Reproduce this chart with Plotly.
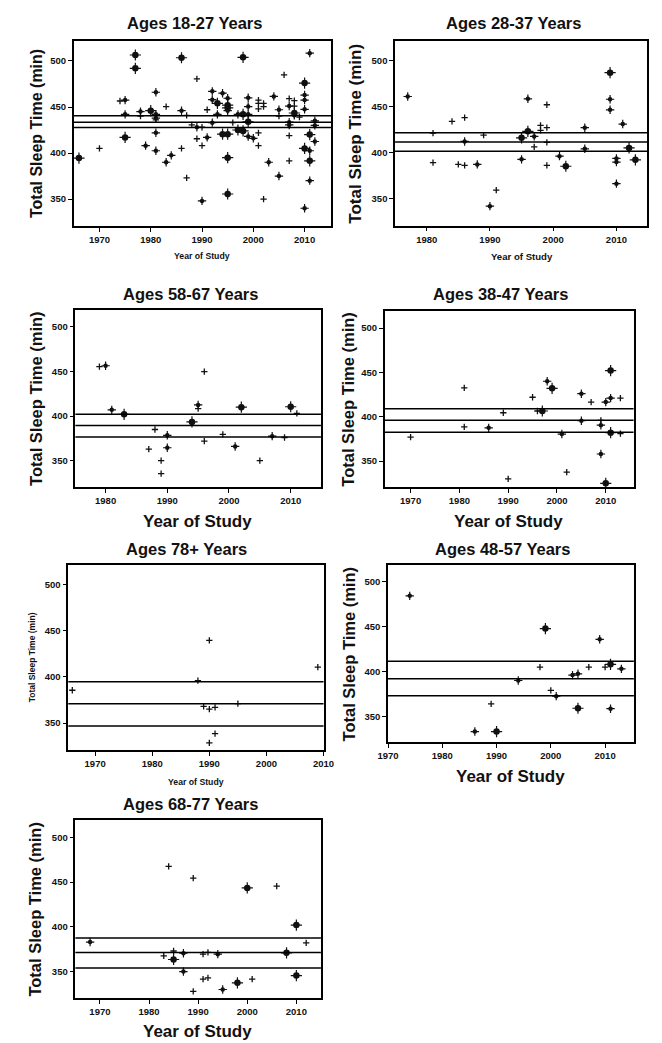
import plotly.graph_objects as go

W, H = 662, 1043

# ---------------- data (year of study, total sleep time in min, study weight class) ----------------
A18_YEAR = [1966, 1970, 1974, 1975, 1975, 1975, 1977, 1977, 1978, 1978, 1979, 1980, 1981, 1981, 1981, 1981,
            1981, 1981, 1983, 1983, 1984, 1986, 1986, 1986, 1987, 1987, 1988, 1989, 1989, 1989, 1990, 1990,
            1990, 1991, 1991, 1992, 1992, 1992, 1993, 1993, 1994, 1994, 1995, 1995, 1995, 1995, 1995, 1995,
            1995, 1996, 1997, 1997, 1998, 1998, 1998, 1999, 1999, 1999, 1999, 1999, 2000, 2001, 2001, 2001,
            2001, 2001, 2002, 2002, 2002, 2003, 2004, 2005, 2005, 2005, 2006, 2007, 2007, 2007, 2007, 2007,
            2007, 2008, 2008, 2008, 2008, 2009, 2010, 2010, 2010, 2010, 2010, 2010, 2011, 2011, 2011, 2011,
            2011, 2012, 2012, 2012]
A18_TST = [394.5, 405, 456.5, 457.5, 442, 417, 506.5, 492, 445, 440, 408, 446, 466, 442, 438, 436,
           422, 402.5, 450.5, 390, 397.5, 503.5, 446, 405, 441, 373, 430.5, 480.5, 428, 415.5, 428, 408,
           348, 447, 417, 467, 458, 433, 454, 442, 465, 420.5, 459.5, 452, 449, 446, 420.5, 395,
           355.5, 433, 442, 425, 504, 442, 424, 460, 450.5, 442, 434, 418, 416, 457.5, 454, 448,
           422, 408, 454, 450.5, 350, 390, 461.5, 447, 440, 375, 485, 459, 451, 433.5, 430.5, 419,
           391.5, 457, 451, 443.5, 441, 439, 476, 463, 457.5, 447.5, 405, 340, 508.5, 420, 402.5, 391.5,
           370, 435, 430, 412.5]
A18_WT = ["b", "s", "s", "m", "m", "b", "b", "b", "m", "s", "m", "b", "m", "m", "m", "s",
          "m", "m", "s", "m", "m", "b", "m", "s", "s", "s", "s", "s", "m", "s", "s", "s",
          "m", "s", "m", "m", "m", "m", "b", "m", "m", "b", "m", "b", "b", "m", "b", "b",
          "b", "s", "m", "b", "b", "b", "b", "m", "m", "m", "b", "m", "m", "s", "s", "s",
          "s", "s", "s", "s", "s", "m", "m", "m", "s", "m", "s", "s", "m", "m", "m", "s",
          "s", "s", "s", "b", "m", "s", "b", "m", "m", "m", "b", "m", "m", "b", "m", "b",
          "m", "m", "m", "m"]
A18_CI = [427.8, 433.5, 440.5]

A28_YEAR = [1977, 1981, 1981, 1984, 1985, 1986, 1986, 1986, 1988, 1989, 1990, 1991, 1995, 1995, 1996, 1996,
            1997, 1997, 1998, 1998, 1999, 1999, 1999, 1999, 2001, 2002, 2005, 2005, 2009, 2009, 2009, 2010,
            2010, 2010, 2011, 2012, 2013]
A28_TST = [461, 421, 389, 434, 387, 438, 412, 386, 387, 419, 341.5, 359, 416, 392.5, 458.5, 423,
           417.5, 406, 429.5, 424, 452, 427, 411, 386, 396, 385, 427, 404, 487, 458, 446.5, 393.5,
           389.5, 366, 431, 405, 392]
A28_WT = ["m", "s", "s", "s", "s", "s", "m", "s", "m", "s", "m", "s", "b", "m", "m", "b",
          "m", "s", "s", "s", "s", "s", "s", "s", "m", "b", "m", "m", "b", "m", "m", "m",
          "m", "m", "m", "b", "b"]
A28_CI = [401.3, 411.4, 421.6]

A58_YEAR = [1979, 1980, 1981, 1983, 1987, 1988, 1989, 1989, 1990, 1990, 1994, 1995, 1995, 1996, 1996, 1999,
            2001, 2002, 2005, 2007, 2009, 2010, 2011]
A58_TST = [455.5, 456.5, 407, 402, 363, 385, 350, 335.5, 378.5, 364.5, 393.5, 412.5, 408.5, 450, 372, 379.5,
           366, 410, 350, 377.5, 376, 410.5, 403]
A58_WT = ["s", "m", "m", "b", "s", "s", "s", "s", "m", "m", "b", "m", "s", "s", "s", "s",
          "m", "b", "s", "m", "s", "b", "s"]
A58_CI = [376.7, 389.5, 402.2]

A38_YEAR = [1970, 1981, 1981, 1986, 1989, 1990, 1995, 1996, 1997, 1998, 1999, 2001, 2002, 2005, 2005, 2007,
            2009, 2009, 2009, 2010, 2010, 2011, 2011, 2011, 2013, 2013]
A38_TST = [377, 432.5, 388.5, 387.5, 404.5, 330, 422, 406.5, 406.5, 440, 432, 380.5, 337.5, 426, 395.5, 416.5,
           396, 390.5, 358, 416.5, 325, 452, 421, 382, 421, 381]
A38_WT = ["s", "s", "s", "m", "s", "s", "s", "s", "b", "m", "b", "m", "s", "m", "m", "s",
          "s", "m", "m", "m", "b", "b", "m", "b", "s", "s"]
A38_CI = [382.6, 396.0, 409.1]

A78_YEAR = [1966, 1988, 1989, 1990, 1990, 1990, 1991, 1991, 1995, 2009]
A78_TST = [385.5, 396, 368, 439.5, 365, 328.5, 367, 338.5, 371, 410.5]
A78_WT = ["s", "s", "s", "s", "s", "s", "s", "s", "s", "s"]
A78_CI = [346.7, 371.0, 394.8]

A48_YEAR = [1974, 1986, 1989, 1990, 1994, 1998, 1999, 2000, 2001, 2004, 2005, 2005, 2007, 2009, 2010, 2011,
            2011, 2013]
A48_TST = [484.5, 333, 364, 333, 390, 405, 448, 379, 372.5, 396, 397.5, 359, 405, 436, 405, 408,
           358.5, 403]
A48_WT = ["m", "m", "s", "b", "m", "s", "b", "s", "m", "m", "m", "b", "s", "m", "s", "b",
          "m", "m"]
A48_CI = [373.0, 392.0, 411.4]

A68_YEAR = [1968, 1983, 1984, 1985, 1985, 1987, 1987, 1989, 1989, 1991, 1991, 1992, 1992, 1994, 1995, 1998,
            2000, 2001, 2006, 2008, 2010, 2010, 2012]
A68_TST = [383, 367.5, 467.5, 373, 363.5, 370.5, 350, 454.5, 328, 369.5, 341.5, 371.5, 343, 369.5, 330, 337.5,
           443.5, 341.5, 445.5, 371, 402, 345.5, 382]
A68_WT = ["m", "s", "s", "s", "b", "m", "m", "s", "s", "s", "s", "s", "s", "m", "m", "b",
          "b", "s", "s", "b", "b", "b", "s"]
A68_CI = [354.1, 371.4, 387.6]

TITLES = ["Ages 18-27 Years", "Ages 28-37 Years", "Ages 58-67 Years", "Ages 38-47 Years",
          "Ages 78+ Years", "Ages 48-57 Years", "Ages 68-77 Years"]
X_TICKS = [1970, 1980, 1990, 2000, 2010]
Y_TICKS = [350, 400, 450, 500]
X_LABEL = "Year of Study"
Y_LABEL = "Total Sleep Time (min)"

# ---------------- layout of the seven panels (pixel geometry) ----------------
PANELS = [
    # data, xrange, yrange, frame (x0, x1, y0, y1), title (x, y), ylabel (x, size), xlabel (x, y, size)
    dict(d=(A18_YEAR, A18_TST, A18_WT, A18_CI), xr=[1965, 2015.2], yr=[320.4, 521.7], f=(56.7, 323, 33, 218.3),
         t=(182, 15), yl=(18, 16), xl=(189, 248, 8.7)),
    dict(d=(A28_YEAR, A28_TST, A28_WT, A28_CI), xr=[1975, 2014.9], yr=[320.4, 521.5], f=(389, 650, 33, 217.5),
         t=(512, 15), yl=(348, 17), xl=(520, 248, 9.6)),
    dict(d=(A58_YEAR, A58_TST, A58_WT, A58_CI), xr=[1975.1, 2014.9], yr=[320.5, 519], f=(58.3, 312.3, 302, 479),
         t=(177, 286), yl=(17, 16.5), xl=(185, 513, 17)),
    dict(d=(A38_YEAR, A38_TST, A38_WT, A38_CI), xr=[1964.7, 2015.7], yr=[320.5, 519.5], f=(378.3, 635.7, 302.7, 479.3),
         t=(498, 286), yl=(340, 16.5), xl=(506, 513, 17)),
    dict(d=(A78_YEAR, A78_TST, A78_WT, A78_CI), xr=[1965.3, 2010], yr=[320.4, 521], f=(51, 315, 557.3, 742.3),
         t=(173, 541), yl=(13, 8.5), xl=(183, 774, 8.7)),
    dict(d=(A48_YEAR, A48_TST, A48_WT, A48_CI), xr=[1970, 2015.3], yr=[321, 518.6], f=(381.7, 636, 557.3, 734.3),
         t=(500, 541), yl=(341, 16.5), xl=(508, 768, 17)),
    dict(d=(A68_YEAR, A68_TST, A68_WT, A68_CI), xr=[1965, 2015], yr=[320.5, 519], f=(58.3, 312.3, 812.3, 990),
         t=(177, 796), yl=(17, 16.5), xl=(185, 1023, 17)),
]

FONT = "Arial, 'Liberation Sans', sans-serif"
INK = "#111111"

fig = go.Figure()
layout = dict(width=W, height=H, margin=dict(l=0, r=0, t=0, b=0), showlegend=False,
              paper_bgcolor="white", plot_bgcolor="white", font=dict(family=FONT, color=INK))
annotations = []
shapes = []

for i, p in enumerate(PANELS, start=1):
    xs, ys, ws, ci = p["d"]
    x0, x1, y0, y1 = p["f"]
    xa = "xaxis" if i == 1 else f"xaxis{i}"
    ya = "yaxis" if i == 1 else f"yaxis{i}"
    xref = "x" if i == 1 else f"x{i}"
    yref = "y" if i == 1 else f"y{i}"
    axis_common = dict(showline=True, linecolor="black", linewidth=1.5, mirror=True, ticks="outside",
                       ticklen=4, tickwidth=1, tickcolor="black", showgrid=False, zeroline=False,
                       tickfont=dict(family=FONT, size=9.5, color=INK, weight="bold"))
    layout[xa] = dict(axis_common, domain=[x0 / W, x1 / W], range=p["xr"], tickvals=X_TICKS,
                      anchor=yref, fixedrange=True)
    layout[ya] = dict(axis_common, domain=[1 - y1 / H, 1 - y0 / H], range=p["yr"], tickvals=Y_TICKS,
                      anchor=xref, fixedrange=True)

    # mean and confidence bounds
    for v in ci:
        shapes.append(dict(type="line", xref=f"{xref} domain", x0=0, x1=1, yref=yref, y0=v, y1=v,
                           line=dict(color="black", width=1.5)))

    # points grouped by weight class
    styles = {
        "s": [dict(symbol="cross-thin", size=4.5, line=dict(width=1.3, color=INK))],
        "m": [dict(symbol="circle", size=4.5, color=INK, line=dict(width=0)),
              dict(symbol="cross-thin", size=6, line=dict(width=1.2, color=INK))],
        "b": [dict(symbol="circle", size=6.5, color=INK, line=dict(width=0)),
              dict(symbol="cross-thin", size=8, line=dict(width=1.2, color=INK))],
    }
    for cls, mks in styles.items():
        px = [x for x, w in zip(xs, ws) if w == cls]
        py = [y for y, w in zip(ys, ws) if w == cls]
        if not px:
            continue
        for mk in mks:
            fig.add_trace(go.Scatter(x=px, y=py, mode="markers", marker=mk, xaxis=xref, yaxis=yref,
                                     hoverinfo="x+y"))

    tx, ty = p["t"]
    annotations.append(dict(text=f"<b>{TITLES[i - 1]}</b>", x=tx / W, y=1 - ty / H, xref="paper", yref="paper",
                            showarrow=False, xanchor="center", yanchor="middle",
                            font=dict(family=FONT, size=16.5, color=INK)))
    ylx, yls = p["yl"]
    annotations.append(dict(text=f"<b>{Y_LABEL}</b>", x=ylx / W, y=1 - ((y0 + y1) / 2) / H, xref="paper",
                            yref="paper", showarrow=False, textangle=-90, xanchor="center", yanchor="middle",
                            font=dict(family=FONT, size=yls, color=INK)))
    xlx, xly, xls = p["xl"]
    annotations.append(dict(text=f"<b>{X_LABEL}</b>", x=xlx / W, y=1 - xly / H, xref="paper", yref="paper",
                            showarrow=False, xanchor="center", yanchor="middle",
                            font=dict(family=FONT, size=xls, color=INK)))

layout["annotations"] = annotations
layout["shapes"] = shapes
fig.update_layout(**layout)
fig.write_html("out.html")
